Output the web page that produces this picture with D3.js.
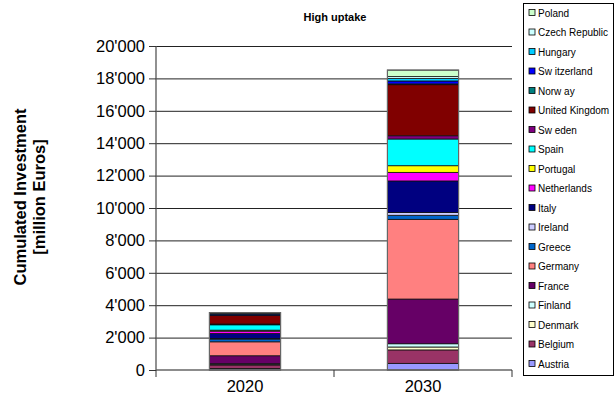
<!DOCTYPE html>
<html>
<head>
<meta charset="utf-8">
<script src="https://cdn.jsdelivr.net/npm/d3@7"></script>
<style>
  html, body { margin: 0; padding: 0; background: #fff; }
  svg { display: block; font-family: "Liberation Sans", Arial, sans-serif; }
</style>
</head>
<body>
<svg id="chart" width="615" height="417"></svg>
<script>
// Years on the x axis
const years = ["2020", "2030"];

// Countries in stacking order (bottom to top)
const countries = ["Austria", "Belgium", "Denmark", "Finland", "France", "Germany", "Greece",
  "Ireland", "Italy", "Netherlands", "Portugal", "Spain", "Sweden", "United Kingdom",
  "Norway", "Switzerland", "Hungary", "Czech Republic", "Poland"];

// Cumulated investment per country [million Euros]
const values2020 = [90, 220, 40, 40, 490, 860, 170, 40, 300, 150, 60, 330, 50, 520, 20, 70, 30, 20, 40];
const values2030 = [410, 830, 180, 200, 2760, 4920, 250, 170, 1950, 530, 410, 1650, 200, 3150, 50, 180, 150, 120, 400];

// Legend labels as printed (spacing quirks kept)
const legendLabels = ["Austria", "Belgium", "Denmark", "Finland", "France", "Germany", "Greece",
  "Ireland", "Italy", "Netherlands", "Portugal", "Spain", "Sw eden", "United Kingdom",
  "Norw ay", "Sw itzerland", "Hungary", "Czech Republic", "Poland"];

const colors = ["#9999FF", "#993366", "#FFFFCC", "#CCFFFF", "#660066", "#FF8080", "#0066CC",
  "#CCCCFF", "#000080", "#FF00FF", "#FFFF00", "#00FFFF", "#800080", "#800000",
  "#008080", "#0000FF", "#00CCFF", "#CCFFFF", "#CCFFCC"];

const yTicks = [0, 2000, 4000, 6000, 8000, 10000, 12000, 14000, 16000, 18000, 20000];

const svg = d3.select("#chart");
const plot = { left: 156, right: 512, top: 46, bottom: 370 };

const rows = years.map((y, i) => {
  const r = { year: y };
  const vals = i === 0 ? values2020 : values2030;
  countries.forEach((c, j) => r[c] = vals[j]);
  return r;
});

const x = d3.scaleBand().domain(years).range([plot.left, plot.right]).paddingInner(0.6).paddingOuter(0.3);
const y = d3.scaleLinear().domain([0, 20000]).range([plot.bottom, plot.top]);

// Horizontal gridlines
svg.append("g").selectAll("line").data(yTicks.slice(1)).join("line")
  .attr("x1", plot.left).attr("x2", plot.right)
  .attr("y1", d => y(d) + 0.5).attr("y2", d => y(d) + 0.5)
  .attr("stroke", "#222").attr("stroke-width", 1);

// Stacked bars
const stack = d3.stack().keys(countries)(rows);
svg.append("g").selectAll("g").data(stack).join("g")
  .attr("fill", (d, i) => colors[i])
  .selectAll("rect").data(d => d).join("rect")
  .attr("x", d => x(d.data.year))
  .attr("width", x.bandwidth())
  .attr("y", d => y(d[1]))
  .attr("height", d => y(d[0]) - y(d[1]))
  .attr("stroke", "#111").attr("stroke-width", 0.8);

// Bar outlines
svg.append("g").selectAll("rect").data(rows).join("rect")
  .attr("x", d => x(d.year))
  .attr("width", x.bandwidth())
  .attr("y", d => y(d3.sum(countries, c => d[c])))
  .attr("height", d => plot.bottom - y(d3.sum(countries, c => d[c])))
  .attr("fill", "none").attr("stroke", "#666").attr("stroke-width", 1.2);

// Y axis
const yAxis = d3.axisLeft(y).tickValues(yTicks).tickSize(7).tickPadding(4)
  .tickFormat(d => d3.format(",")(d).replace(/,/g, "'"));
const ga = svg.append("g").attr("transform", `translate(${plot.left},0)`).call(yAxis);
ga.select(".domain").attr("stroke", "#555").attr("stroke-width", 1.3).attr("d", `M0,${plot.top}V${plot.bottom}`);
ga.selectAll(".tick line").attr("stroke", "#333");
ga.selectAll(".tick text").attr("font-size", 16.5).attr("fill", "#000")
  .attr("font-family", "Liberation Sans, Arial, sans-serif");

// X axis baseline and category separators
svg.append("line").attr("x1", plot.left).attr("x2", plot.right)
  .attr("y1", plot.bottom).attr("y2", plot.bottom).attr("stroke", "#666").attr("stroke-width", 1.5);
const seps = [plot.left, (x("2020") + x.bandwidth() + x("2030")) / 2, plot.right];
svg.append("g").selectAll("line").data(seps).join("line")
  .attr("x1", d => d).attr("x2", d => d)
  .attr("y1", plot.bottom).attr("y2", plot.bottom + 7)
  .attr("stroke", "#333").attr("stroke-width", 1);
svg.append("g").selectAll("text").data(years).join("text")
  .attr("x", d => x(d) + x.bandwidth() / 2)
  .attr("y", 392)
  .attr("text-anchor", "middle").attr("font-size", 16.5).text(d => d);

// Y axis title
const yt = svg.append("text").attr("transform", "translate(26,197) rotate(-90)")
  .attr("text-anchor", "middle").attr("font-size", 16.5).attr("font-weight", "bold");
yt.append("tspan").attr("x", 0).attr("dy", 0).text("Cumulated Investment");
yt.append("tspan").attr("x", 0).attr("dy", 19).text("[million Euros]");

// Chart title
svg.append("text").attr("x", 335).attr("y", 21).attr("text-anchor", "middle")
  .attr("font-size", 11).attr("font-weight", "bold").text("High uptake");

// Legend
const lg = svg.append("g");
lg.append("rect").attr("x", 523.5).attr("y", 3.5).attr("width", 90).attr("height", 372)
  .attr("fill", "#fff").attr("stroke", "#000").attr("stroke-width", 1);
const order = d3.range(countries.length).reverse();
const ly = d3.scalePoint().domain(order).range([13, 364]);
const items = lg.selectAll("g").data(order).join("g")
  .attr("transform", i => `translate(529,${ly(i)})`);
items.append("rect").attr("x", 0).attr("y", -3.5).attr("width", 6).attr("height", 6)
  .attr("fill", i => colors[i]).attr("stroke", "#000").attr("stroke-width", 0.8);
items.append("text").attr("x", 9).attr("y", 3.5).attr("font-size", 10)
  .text(i => legendLabels[i]);
</script>
</body>
</html>
